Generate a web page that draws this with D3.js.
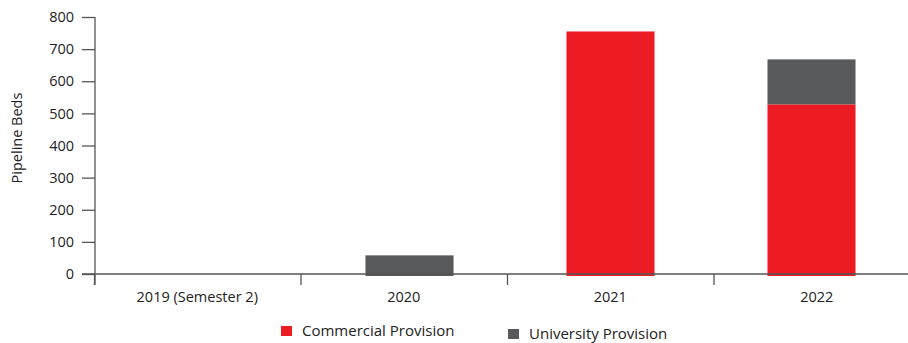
<!DOCTYPE html>
<html>
<head>
<meta charset="utf-8">
<script src="https://cdn.jsdelivr.net/npm/d3@7"></script>
<style>
  body { margin: 0; background: #fff; }
  text { font-family: "Open Sans", sans-serif; fill: #222; }
</style>
</head>
<body>
<div id="chart"></div>
<script>
const categories = ["2019 (Semester 2)", "2020", "2021", "2022"];
const commercial = [0, 0, 755, 528];
const university = [0, 58, 0, 140];
const yTicks = [0, 100, 200, 300, 400, 500, 600, 700, 800];
const seriesNames = ["Commercial Provision", "University Provision"];
const colors = ["#ED1C24", "#58595B"];

const W = 908, H = 343;
const svg = d3.select("#chart").append("svg")
    .attr("width", W)
    .attr("height", H);

const y = d3.scaleLinear().domain([0, 800]).range([274, 17]);

// axis categories sit on one band, bars on a slightly narrower one
const xAxisBand = d3.scaleBand().domain(categories).range([94, 920]);
const xBar = d3.scaleBand().domain(categories).range([108, 912])
    .paddingInner(0.562).paddingOuter(0.281);

const rows = categories.map((c, i) => ({cat: c, commercial: commercial[i], university: university[i]}));
const stacked = d3.stack().keys(["commercial", "university"])(rows);

svg.selectAll("g.layer")
    .data(stacked)
    .enter().append("g")
    .attr("class", "layer")
    .attr("fill", (d, i) => colors[i])
    .selectAll("rect")
    .data(d => d.filter(p => p[1] - p[0] > 0))
    .enter().append("rect")
    .attr("x", d => xBar(d.data.cat))
    .attr("width", xBar.bandwidth())
    .attr("y", d => y(d[1]))
    .attr("height", d => y(d[0]) - y(d[1]) + (d[0] === 0 ? 2 : 0));

// y axis
const yAxis = svg.append("g")
    .attr("transform", "translate(95,0)")
    .call(d3.axisLeft(y).tickValues(yTicks).tickSize(13).tickPadding(8));
yAxis.select(".domain").attr("d", "M0,17V285");
yAxis.selectAll("line, path").attr("stroke", "#555").attr("stroke-width", 1.3);
yAxis.selectAll("text").style("font-size", "14.5px").attr("fill", "#222");

// x axis
const xAxis = svg.append("g")
    .attr("transform", "translate(0,274)");
xAxis.append("line")
    .attr("x1", 82).attr("x2", 908)
    .attr("stroke", "#555").attr("stroke-width", 1.3);
xAxis.selectAll("line.tick")
    .data(categories)
    .enter().append("line")
    .attr("class", "tick")
    .attr("x1", d => xAxisBand(d) + 0.5).attr("x2", d => xAxisBand(d) + 0.5)
    .attr("y1", 0).attr("y2", 11)
    .attr("stroke", "#555").attr("stroke-width", 1.3);
xAxis.selectAll("text")
    .data(categories)
    .enter().append("text")
    .attr("x", d => xAxisBand(d) + xAxisBand.bandwidth() / 2)
    .attr("y", 28)
    .attr("text-anchor", "middle")
    .style("font-size", "14.5px")
    .text(d => d);

// y axis label
svg.append("text")
    .attr("transform", "rotate(-90)")
    .attr("x", -138)
    .attr("y", 22)
    .attr("text-anchor", "middle")
    .style("font-size", "14.5px")
    .text("Pipeline Beds");

// legend
const legendPos = [{x: 281, y: 326}, {x: 508, y: 329}];
const legend = svg.selectAll("g.legend")
    .data(seriesNames)
    .enter().append("g")
    .attr("class", "legend")
    .attr("transform", (d, i) => `translate(${legendPos[i].x},${legendPos[i].y})`);
legend.append("rect")
    .attr("width", 11).attr("height", 10)
    .attr("fill", (d, i) => colors[i]);
legend.append("text")
    .attr("x", 21)
    .attr("y", 10)
    .style("font-size", "15px")
    .text(d => d);
</script>
</body>
</html>
